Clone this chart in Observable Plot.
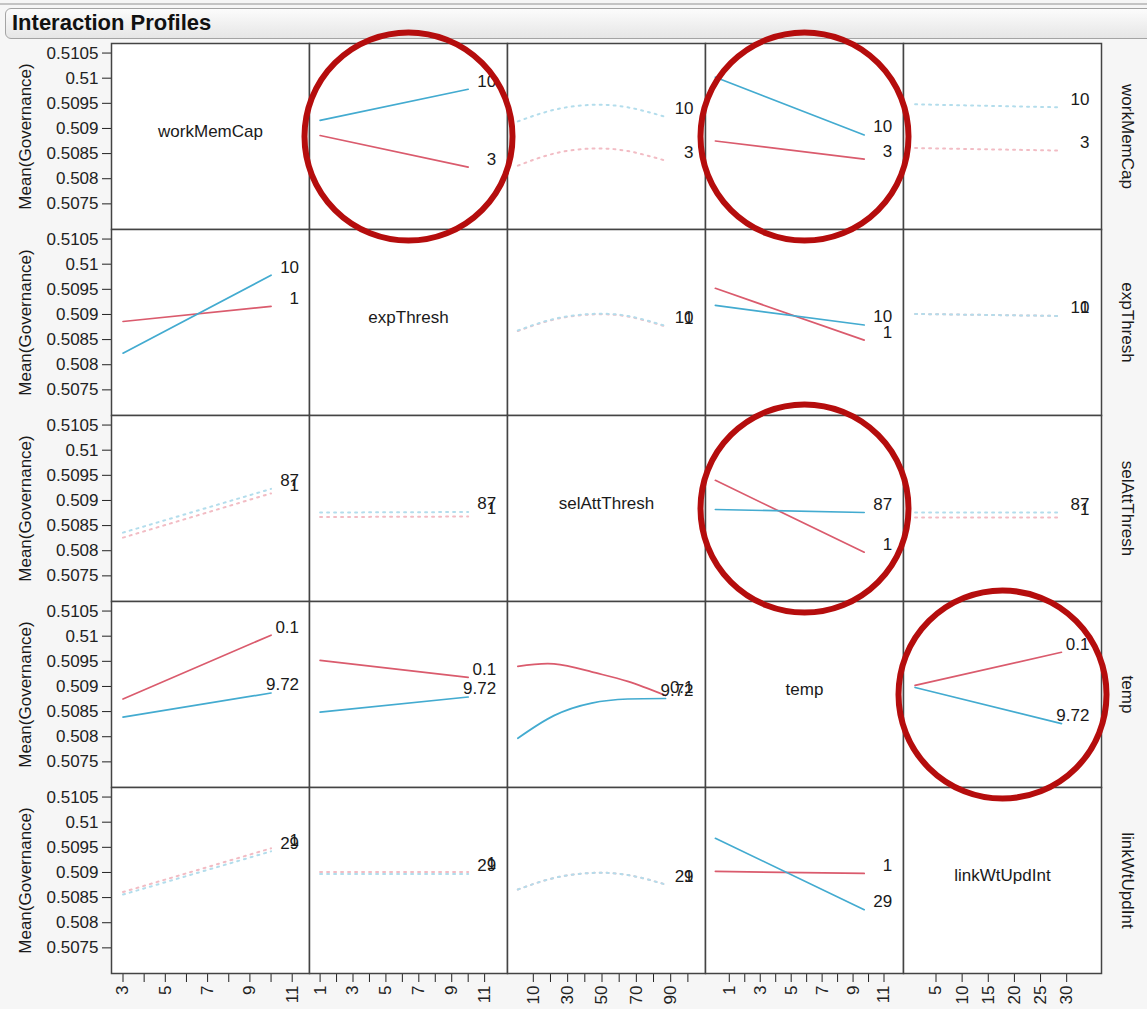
<!DOCTYPE html>
<html>
<head>
<meta charset="utf-8">
<script src="https://cdn.jsdelivr.net/npm/d3@7"></script>
<script src="https://cdn.jsdelivr.net/npm/@observablehq/plot@0.6"></script>
<style>
  body { margin: 0; background: #f6f6f6; font-family: "Liberation Sans", Arial, sans-serif; }
  #root { position: relative; width: 1147px; height: 1009px; overflow: hidden; background: #f6f6f6; }
  #topline { position: absolute; left: 0; top: 3px; width: 1147px; height: 2px; background: #c4c4c4; }
  #title { position: absolute; left: 5px; top: 8px; width: 1170px; height: 31px; box-sizing: border-box;
           border: 1px solid #a4a4a4; border-radius: 6px; background: linear-gradient(#fcfcfc, #e6e6e6); }
  #title span { position: absolute; left: 6px; top: 0; line-height: 27px; font-weight: bold; font-size: 22px; color: #111; }
  .cell { position: absolute; }
  .cell svg { overflow: visible; }
</style>
</head>
<body>
<div id="root">
  <div id="topline"></div>
  <div id="title"><span>Interaction Profiles</span></div>
</div>
<script>
// ---- data ----
const factors = ["workMemCap", "expThresh", "selAttThresh", "temp", "linkWtUpdInt"];
const lowLevels = [3, 1, 1, 0.1, 1];
const highLevels = [10, 10, 87, 9.72, 29];
const lowLabels = ["3", "1", "1", "0.1", "1"];
const highLabels = ["10", "10", "87", "9.72", "29"];
const selAttGrid = [1, 22, 44, 65, 87];

// 2x2 means: [A low/B low, A low/B high, A high/B low, A high/B high]
const workMem_expThresh = [0.50886, 0.50823, 0.50916, 0.50978];
const workMem_temp = [0.50875, 0.50839, 0.51002, 0.50887];
const workMem_link = [0.50861, 0.50856, 0.50948, 0.50942];
const expThresh_temp = [0.50952, 0.50849, 0.50918, 0.50879];
const expThresh_link = [0.50901, 0.50897, 0.50901, 0.50897];
const temp_link = [0.50902, 0.50968, 0.50898, 0.50826];

// means along selAttThresh (selAttGrid) for low / high level of the other factor
const workMem_selAtt = [[0.50826, 0.50850, 0.50860, 0.50855, 0.50836], [0.50914, 0.50937, 0.50947, 0.50942, 0.50923]];
const expThresh_selAtt = [[0.50867, 0.50890, 0.50900, 0.50896, 0.50876], [0.50868, 0.50891, 0.50901, 0.50897, 0.50877]];
const temp_selAtt = [[0.50940, 0.50945, 0.50929, 0.50910, 0.50882], [0.50797, 0.50842, 0.50867, 0.50875, 0.50876]];
const link_selAtt = [[0.50866, 0.50889, 0.50899, 0.50895, 0.50876], [0.50866, 0.50889, 0.50899, 0.50895, 0.50876]];

const significantPairs = ["0-1", "0-3", "1-3", "2-3", "3-4"];
const circledCells = [[0, 1], [0, 3], [2, 3], [3, 4]]; // [row, col]

const yTicks = [0.5075, 0.508, 0.5085, 0.509, 0.5095, 0.51, 0.5105];
const yDomain = [0.50699, 0.51069];
const xMajorTicks = [[3, 5, 7, 9, 11], [1, 3, 5, 7, 9, 11], [10, 30, 50, 70, 90], [1, 3, 5, 7, 9, 11], [5, 10, 15, 20, 25, 30]];
const xMinorTicks = [[4, 6, 8, 10], [2, 4, 6, 8, 10], [20, 40, 60, 80, 100], [2, 4, 6, 8, 10], []];
const xDomains = [[2.456, 11.818], [0.356, 12.39], [-5.02, 110.26], [-0.538, 12.26], [-1.218, 36.66]];

// ---- helpers ----
const means2 = {"0-1": workMem_expThresh, "0-3": workMem_temp, "0-4": workMem_link,
                "1-3": expThresh_temp, "1-4": expThresh_link, "3-4": temp_link};
const satCurves = {0: workMem_selAtt, 1: expThresh_selAtt, 3: temp_selAtt, 4: link_selAtt};
const pairKey = (a, b) => a < b ? a + "-" + b : b + "-" + a;
function mean2(f1, i1, f2, i2) {
  const t = means2[pairKey(f1, f2)];
  return f1 < f2 ? t[i1 * 2 + i2] : t[i2 * 2 + i1];
}
const levels = factors.map((f, i) => [lowLevels[i], highLevels[i]]);
const levelLabels = factors.map((f, i) => [lowLabels[i], highLabels[i]]);
function series(r, c, lvl) {
  let pts;
  if (c === 2) pts = selAttGrid.map((s, k) => ({x: s, y: satCurves[r][lvl][k]}));
  else if (r === 2) pts = [0, 1].map(j => ({x: levels[c][j], y: satCurves[c][j][lvl === 0 ? 0 : selAttGrid.length - 1]}));
  else pts = [0, 1].map(j => ({x: levels[c][j], y: mean2(r, lvl, c, j)}));
  pts.forEach(p => p.label = levelLabels[r][lvl]);
  return pts;
}

const lineColors = ["#da5b6d", "#43abd0"];
const faintColors = ["#f2bcc4", "#b3ddec"];
const font = "'Liberation Sans', Arial, sans-serif";
const cellW = 198, cellH = 186, gridLeft = 111, gridTop = 43;
const root = document.getElementById("root");

for (let r = 0; r < 5; r++) {
  for (let c = 0; c < 5; c++) {
    const mL = c === 0 ? 111 : 0;
    const mR = c === 4 ? 46 : 0;
    const mB = r === 4 ? 36 : 0;
    const marks = [Plot.frame({fill: "white", stroke: "none"})];
    if (r === c) {
      marks.push(Plot.text([factors[r]], {frameAnchor: "middle", dy: -5, fontSize: 17, fill: "#1a1a1a"}));
    } else {
      const sig = significantPairs.includes(pairKey(r, c));
      for (const lvl of [0, 1]) {
        const pts = series(r, c, lvl);
        marks.push(Plot.line(pts, {
          x: "x", y: "y", curve: c === 2 ? "natural" : "linear",
          stroke: sig ? lineColors[lvl] : faintColors[lvl],
          strokeWidth: sig ? 1.7 : 2,
          strokeDasharray: sig ? null : "2,5"
        }));
      }
      for (const lvl of [0, 1]) {
        const pts = series(r, c, lvl);
        marks.push(Plot.text(pts.slice(-1), {
          x: "x", y: "y", text: "label", textAnchor: "end", dx: 28, dy: -8, fontSize: 17, fill: "#1a1a1a"
        }));
      }
    }
    if (c === 0) {
      marks.push(Plot.axisY({ticks: yTicks, tickFormat: d => String(d), tickSize: 9, tickPadding: 4,
                             fontSize: 17, label: null, color: "#222"}));
      marks.push(Plot.text(["Mean(Governance)"], {frameAnchor: "left", textAnchor: "middle", dx: -86, rotate: -90,
                                                  fontSize: 17, fill: "#1a1a1a"}));
    }
    if (r === 4) {
      const majors = xMajorTicks[c];
      marks.push(Plot.axisX({ticks: majors.concat(xMinorTicks[c]),
                             tickFormat: d => majors.includes(d) ? String(d) : "",
                             tickRotate: -90, tickSize: 9, tickPadding: 3, fontSize: 17, label: null, color: "#222"}));
    }
    if (c === 4) {
      marks.push(Plot.text([factors[r]], {frameAnchor: "right", textAnchor: "middle", dx: 26, rotate: 90,
                                          fontSize: 17, fill: "#1a1a1a"}));
    }
    marks.push(Plot.frame({stroke: "#444", strokeWidth: 1.5}));

    const svg = Plot.plot({
      width: cellW + mL + mR, height: cellH + mB,
      marginTop: 0, marginLeft: mL, marginRight: mR, marginBottom: mB,
      x: {domain: xDomains[c], axis: null},
      y: {domain: yDomain, axis: null},
      style: {background: "transparent", overflow: "visible", fontFamily: font, fontSize: "17px", color: "#222"},
      marks
    });
    const div = document.createElement("div");
    div.className = "cell";
    div.style.left = (gridLeft + c * cellW - mL) + "px";
    div.style.top = (gridTop + r * cellH) + "px";
    div.appendChild(svg);
    root.appendChild(div);
  }
}

// red highlight circles over the grid
const overlay = Plot.plot({
  width: cellW * 5, height: cellH * 5,
  margin: 0,
  x: {domain: [0, 5], axis: null},
  y: {domain: [0, 5], reverse: true, axis: null},
  style: {background: "transparent", overflow: "visible"},
  marks: [
    Plot.dot(circledCells, {x: d => d[1] + 0.5, y: d => d[0] + 0.5, r: 104, stroke: "#b50d0d", strokeWidth: 6, fill: "none"})
  ]
});
const od = document.createElement("div");
od.className = "cell";
od.style.left = gridLeft + "px";
od.style.top = gridTop + "px";
od.style.pointerEvents = "none";
od.appendChild(overlay);
root.appendChild(od);
</script>
</body>
</html>
